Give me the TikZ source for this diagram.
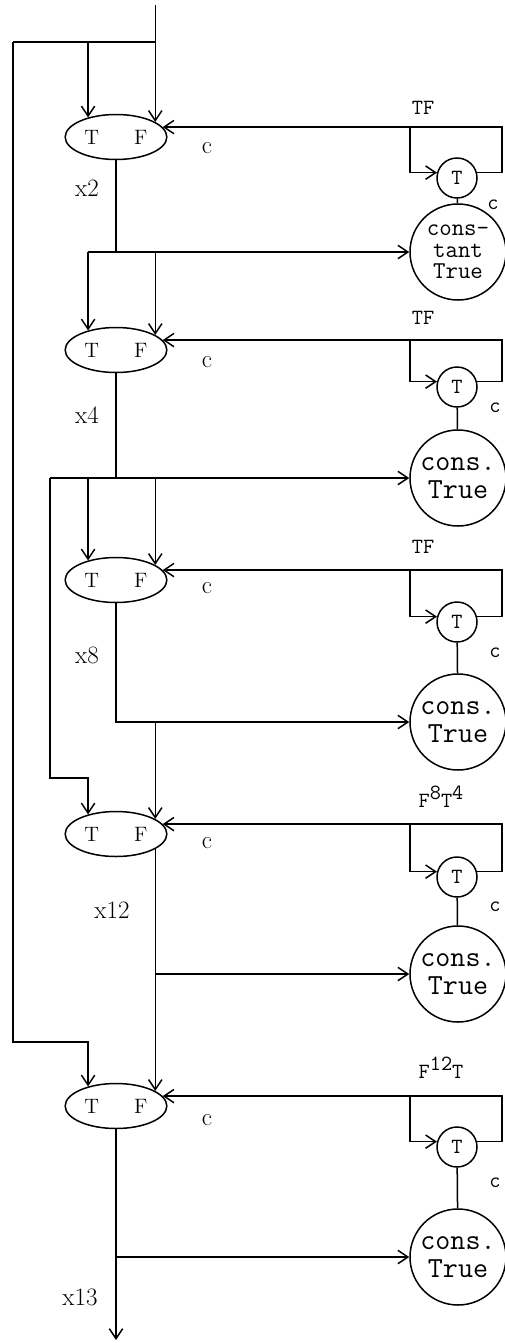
\documentclass[tikz,border=0pt]{standalone}
\usepackage{fontspec}
\usetikzlibrary{arrows.meta,shapes.geometric,calc}
\begin{document}
\begin{tikzpicture}[x=0.6pt,y=-0.6pt,line width=0.9pt,
  >={Straight Barb[length=6pt,width=8pt]},
  gate/.style={draw,ellipse,minimum width=61pt,minimum height=27pt,inner sep=0pt,font=\fontsize{12.5}{13}\selectfont},
  tgate/.style={draw,circle,minimum size=24pt,inner sep=0pt,font=\ttfamily\fontsize{13}{13}\selectfont},
  const/.style={draw,circle,minimum size=57.6pt,inner sep=0pt,align=center,font=\ttfamily\fontsize{17.5}{16.5}\selectfont},
  seq/.style={font=\ttfamily\fontsize{13}{14}\selectfont},
  lab/.style={font=\fontsize{15}{16}\selectfont}]
\useasboundingbox (0,0) rectangle (505,1343);

% multiplier gates
\node[gate] (e1) at (116,137) {T\hspace{21pt}F};
\node[gate] (e2) at (116,350) {T\hspace{21pt}F};
\node[gate] (e3) at (116,580) {T\hspace{21pt}F};
\node[gate] (e4) at (116,834) {T\hspace{21pt}F};
\node[gate] (e5) at (116,1106) {T\hspace{21pt}F};

% clock loops and constants
\node[tgate] (t1) at (457,178) {T};
\node[tgate] (t2) at (457,387) {T};
\node[tgate] (t3) at (457,622) {T};
\node[tgate] (t4) at (457,877) {T};
\node[tgate] (t5) at (457,1147) {T};
\node[const,font=\ttfamily\fontsize{14.5}{13}\selectfont] (b1) at (458,252) {cons-\\tant\\True};
\node[const] (b2) at (458,478) {cons.\\True};
\node[const] (b3) at (458,722) {cons.\\True};
\node[const] (b4) at (458,974) {cons.\\True};
\node[const] (b5) at (458,1257) {cons.\\True};

\coordinate (k1) at (e1.12 -| 410,0);
\coordinate (k2) at (e2.12 -| 410,0);
\coordinate (k3) at (e3.12 -| 410,0);
\coordinate (k4) at (e4.12 -| 410,0);
\coordinate (k5) at (e5.12 -| 410,0);
\draw[->] (t1.15) -| (k1 -| 502,0) -- (k1) |- (t1.165);
\draw[->] (t2.15) -| (k2 -| 502,0) -- (k2) |- (t2.165);
\draw[->] (t3.15) -| (k3 -| 502,0) -- (k3) |- (t3.165);
\draw[->] (t4.15) -| (k4 -| 502,0) -- (k4) |- (t4.165);
\draw[->] (t5.15) -| (k5 -| 502,0) -- (k5) |- (t5.165);
\draw[->] (k1) -- (e1.12);
\draw[->] (k2) -- (e2.12);
\draw[->] (k3) -- (e3.12);
\draw[->] (k4) -- (e4.12);
\draw[->] (k5) -- (e5.12);
\draw (t1) -- (b1);
\draw (t2) -- (b2);
\draw (t3) -- (b3);
\draw (t4) -- (b4);
\draw (t5) -- (b5);

% input x
\coordinate (in) at (e1.21 |- 0,5);
\coordinate (r1) at (13,42);
\draw[->] (in) -- (e1.21);
\draw (r1) -- (in |- r1);
\draw[->] (e1.145 |- r1) -- (e1.145);
\draw[->] (r1) -- (r1 |- 0,1042) -| (e5.145);

% x2
\coordinate (j1) at (b1.west -| e2.145);
\draw (e1.south) -- (e1.south |- j1);
\draw[->] (j1) -- (b1.west);
\draw[->] (j1) -- (e2.145);
\draw[->] (e2.21 |- j1) -- (e2.21);

% x4
\coordinate (r2) at (b2.west -| 50,0);
\draw (e2.south) -- (e2.south |- r2);
\draw[->] (r2) -- (b2.west);
\draw[->] (e3.145 |- r2) -- (e3.145);
\draw[->] (e3.21 |- r2) -- (e3.21);
\draw[->] (r2) -- (r2 |- 0,778) -| (e4.145);

% x8
\draw[->] (e3.south) |- (b3.west);
\draw[->] (e4.21 |- b3.west) -- (e4.21);

% x12
\draw[->] (e4.-21) -- (e5.21);
\draw[->] (e4.-21 |- b4.west) -- (b4.west);

% x13
\coordinate (out) at (e5.south |- 0,1340);
\draw[->] (e5.south) -- (out);
\draw[->] (e5.south |- b5.west) -- (b5.west);

% labels
\node[lab] (x2) at (87,188) {x2};
\node[lab] (x4) at (87,415) {x4};
\node[lab] (x8) at (87,655) {x8};
\node[lab] (x12) at (112,910) {x12};
\node[lab] (x13) at (80,1297) {x13};
\node[lab] (c1) at (207,148) {c};
\node[lab] (c2) at (207,362) {c};
\node[lab] (c3) at (207,588) {c};
\node[lab] (c4) at (207,843) {c};
\node[lab] (c5) at (207,1120) {c};
\node[seq] (d1) at (493,205) {c};
\node[seq] (d2) at (495,408) {c};
\node[seq] (d3) at (495,653) {c};
\node[seq] (d4) at (495,907) {c};
\node[seq] (d5) at (495,1183) {c};
\node[seq] (s1) at (423,108) {TF};
\node[seq] (s2) at (423,318) {TF};
\node[seq] (s3) at (423,547) {TF};
\node[seq] (s4) at (441,797) {F\raisebox{0.9ex}{8}T\raisebox{0.9ex}{4}};
\node[seq] (s5) at (441,1068) {F\raisebox{0.9ex}{12}T};
\end{tikzpicture}
\end{document}
